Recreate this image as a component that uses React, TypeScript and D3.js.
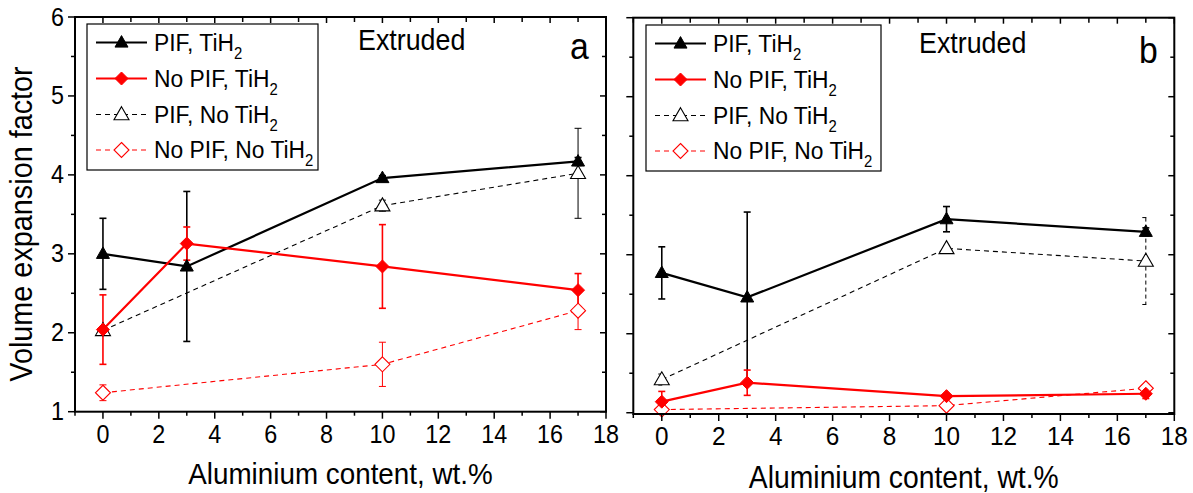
import React from 'react';
import * as d3 from 'd3';

// ---------- data ----------
const xTickValues = [0, 2, 4, 6, 8, 10, 12, 14, 16, 18];
const yTickValues = [1, 2, 3, 4, 5, 6];

const seriesNames = ['PIF, TiH', 'No PIF, TiH', 'PIF, No TiH', 'No PIF, No TiH'];

// Panel a
const aPifTiH2X = [0, 3, 10, 17];
const aPifTiH2Y = [3.0, 2.84, 3.96, 4.17];
const aPifTiH2E = [0.45, 0.95, 0.03, 0.05];

const aNoPifTiH2X = [0, 3, 10, 17];
const aNoPifTiH2Y = [2.04, 3.13, 2.84, 2.54];
const aNoPifTiH2E = [0.44, 0.21, 0.53, 0.21];

const aPifNoTiH2X = [0, 10, 17];
const aPifNoTiH2Y = [2.03, 3.61, 4.02];
const aPifNoTiH2E = [0.05, 0.07, 0.57];

const aNoPifNoTiH2X = [0, 10, 17];
const aNoPifNoTiH2Y = [1.24, 1.6, 2.28];
const aNoPifNoTiH2E = [0.1, 0.28, 0.24];

// Panel b
const bPifTiH2X = [0, 3, 10, 17];
const bPifTiH2Y = [2.77, 2.46, 3.45, 3.29];
const bPifTiH2E = [0.33, 1.08, 0.16, 0.05];

const bNoPifTiH2X = [0, 3, 10, 17];
const bNoPifTiH2Y = [1.14, 1.38, 1.21, 1.24];
const bNoPifTiH2E = [0.13, 0.16, 0.03, 0.06];

const bPifNoTiH2X = [0, 10, 17];
const bPifNoTiH2Y = [1.42, 3.08, 2.92];
const bPifNoTiH2E = [0.07, 0.03, 0.55];

const bNoPifNoTiH2X = [0, 10, 17];
const bNoPifNoTiH2Y = [1.04, 1.09, 1.31];
const bNoPifNoTiH2E = [0.02, 0.03, 0.03];

// ---------- styles ----------
const FONT = '"Liberation Sans", Arial, Helvetica, sans-serif';
const RED = '#ff0000';
const SX = 0.92; // horizontal squeeze of glyphs
const SF = 1.08; // font enlargement

type Kind = 'triFilled' | 'diaFilled' | 'triOpen' | 'diaOpen';
interface Series {
  name: string;
  x: number[];
  y: number[];
  e: number[];
  color: string;
  kind: Kind;
  dashed: boolean;
}

function makeSeries(xs: number[][], ys: number[][], es: number[][]): Series[] {
  const kinds: Kind[] = ['triFilled', 'diaFilled', 'triOpen', 'diaOpen'];
  const colors = ['#000', RED, '#000', RED];
  return kinds.map((k, i) => ({
    name: seriesNames[i],
    x: xs[i],
    y: ys[i],
    e: es[i],
    color: colors[i],
    kind: k,
    dashed: i >= 2,
  }));
}

const seriesA = makeSeries(
  [aPifTiH2X, aNoPifTiH2X, aPifNoTiH2X, aNoPifNoTiH2X],
  [aPifTiH2Y, aNoPifTiH2Y, aPifNoTiH2Y, aNoPifNoTiH2Y],
  [aPifTiH2E, aNoPifTiH2E, aPifNoTiH2E, aNoPifNoTiH2E]
);
const seriesB = makeSeries(
  [bPifTiH2X, bNoPifTiH2X, bPifNoTiH2X, bNoPifNoTiH2X],
  [bPifTiH2Y, bNoPifTiH2Y, bPifNoTiH2Y, bNoPifNoTiH2Y],
  [bPifTiH2E, bNoPifTiH2E, bPifNoTiH2E, bNoPifNoTiH2E]
);

function T({
  x,
  y,
  size,
  anchor,
  rotate,
  children,
}: {
  x: number;
  y: number;
  size: number;
  anchor?: 'start' | 'middle' | 'end';
  rotate?: number;
  children: React.ReactNode;
}) {
  const tr = `translate(${x},${y})${rotate ? ` rotate(${rotate})` : ''} scale(${SX},1)`;
  return (
    <text transform={tr} textAnchor={anchor || 'start'} fontSize={size * SF} fontFamily={FONT} fill="#000">
      {children}
    </text>
  );
}

function Marker({ kind, cx, cy, color }: { kind: Kind; cx: number; cy: number; color: string }) {
  if (kind === 'triFilled' || kind === 'triOpen') {
    const open = kind === 'triOpen';
    const w = open ? 7.5 : 6.5;
    const h = open ? 13 : 11.5;
    const pts = `${cx},${cy - h * 0.6} ${cx + w},${cy + h * 0.4} ${cx - w},${cy + h * 0.4}`;
    return (
      <polygon
        points={pts}
        fill={open ? '#fff' : color}
        stroke={color}
        strokeWidth={open ? 1.1 : 1}
        strokeLinejoin="miter"
      />
    );
  }
  const open = kind === 'diaOpen';
  const r = open ? 7.5 : 6.5;
  const pts = `${cx},${cy - r} ${cx + r},${cy} ${cx},${cy + r} ${cx - r},${cy}`;
  return <polygon points={pts} fill={open ? '#fff' : color} stroke={color} strokeWidth={open ? 1.1 : 1} />;
}

interface PanelProps {
  x0: number;
  x1: number;
  yTop: number;
  yBottom: number;
  yMin: number;
  series: Series[];
  showYLabels: boolean;
  tickFont: number;
  labelBaseline: number;
  titleBaseline: number;
  titleFont: number;
  legend: { x: number; y: number; w: number; h: number };
  extruded: { x: number; y: number };
  letter: { text: string; x: number; y: number };
  dashedErrors: boolean;
}

function Panel(p: PanelProps) {
  const xs = d3.scaleLinear().domain([-1, 18]).range([p.x0, p.x1]);
  const ys = d3.scaleLinear().domain([p.yMin, 6]).range([p.yBottom, p.yTop]);
  const line = d3
    .line<[number, number]>()
    .x((d) => xs(d[0]))
    .y((d) => ys(d[1]));

  const xMinor = d3.range(-1, 19, 1);
  const yMinor = d3.range(1, 6.01, 0.5);

  const drawOrder = [3, 2, 0, 1];
  const rowOffsets = [18.5, 54.5, 90.5, 126];
  const L = p.legend;

  return (
    <g>
      {/* error bars */}
      {drawOrder.map((si) => {
        const s = p.series[si];
        return (
          <g key={'e' + si} stroke={s.color} strokeWidth={s.dashed ? 1 : 1.6}>
            {s.x.map((xv, i) => {
              const cx = xs(xv);
              const yt = ys(s.y[i] + s.e[i]);
              const yb = ys(s.y[i] - s.e[i]);
              const dash = s.dashed && p.dashedErrors ? '4,3' : undefined;
              return (
                <g key={i}>
                  <line x1={cx} x2={cx} y1={yt} y2={yb} strokeDasharray={dash} />
                  <line x1={cx - 3.5} x2={cx + 3.5} y1={yt} y2={yt} strokeDasharray={dash} />
                  <line x1={cx - 3.5} x2={cx + 3.5} y1={yb} y2={yb} strokeDasharray={dash} />
                </g>
              );
            })}
          </g>
        );
      })}
      {/* lines */}
      {drawOrder.map((si) => {
        const s = p.series[si];
        const pts = s.x.map((xv, i) => [xv, s.y[i]] as [number, number]);
        return (
          <path
            key={'l' + si}
            d={line(pts) || ''}
            fill="none"
            stroke={s.color}
            strokeWidth={s.dashed ? 1.1 : 2.2}
            strokeDasharray={s.dashed ? '5,4' : undefined}
          />
        );
      })}
      {/* markers */}
      {drawOrder.map((si) => {
        const s = p.series[si];
        return (
          <g key={'m' + si}>
            {s.x.map((xv, i) => (
              <Marker key={i} kind={s.kind} cx={xs(xv)} cy={ys(s.y[i])} color={s.color} />
            ))}
          </g>
        );
      })}

      {/* frame */}
      <rect
        x={p.x0}
        y={p.yTop}
        width={p.x1 - p.x0}
        height={p.yBottom - p.yTop}
        fill="none"
        stroke="#000"
        strokeWidth={2}
      />
      {/* x ticks */}
      {xMinor.map((v) => {
        const major = v % 2 === 0;
        const px = xs(v);
        return (
          <g key={'xt' + v} stroke="#000" strokeWidth={1.5}>
            <line x1={px} x2={px} y1={p.yBottom} y2={p.yBottom + (major ? 7 : 4)} />
            <line x1={px} x2={px} y1={p.yTop} y2={p.yTop + (major ? 6 : 5)} />
          </g>
        );
      })}
      {/* y ticks */}
      {yMinor.map((v) => {
        const major = Math.abs(v - Math.round(v)) < 1e-6;
        const py = ys(v);
        return (
          <g key={'yt' + v} stroke="#000" strokeWidth={1.5}>
            <line x1={p.x0 - (major ? 7 : 4)} x2={p.x0} y1={py} y2={py} />
            <line x1={p.x1 - (major ? 6 : 4)} x2={p.x1} y1={py} y2={py} />
          </g>
        );
      })}
      {/* x tick labels */}
      {xTickValues.map((v) => (
        <T key={'xl' + v} x={xs(v)} y={p.labelBaseline} size={p.tickFont} anchor="middle">
          {v}
        </T>
      ))}
      {p.showYLabels &&
        yTickValues.map((v) => (
          <T key={'yl' + v} x={p.x0 - 11} y={ys(v) + 8.5} size={p.tickFont} anchor="end">
            {v}
          </T>
        ))}
      {/* x title */}
      <T x={(p.x0 + p.x1) / 2} y={p.titleBaseline} size={p.titleFont} anchor="middle">
        Aluminium content, wt.%
      </T>

      {/* legend */}
      <rect x={L.x} y={L.y} width={L.w} height={L.h} fill="#fff" stroke="#000" strokeWidth={1.2} />
      {p.series.map((s, i) => {
        const ly = L.y + rowOffsets[i];
        return (
          <g key={'lg' + i}>
            <line
              x1={L.x + 9}
              x2={L.x + 60}
              y1={ly}
              y2={ly}
              stroke={s.color}
              strokeWidth={s.dashed ? 1.1 : 2.2}
              strokeDasharray={s.dashed ? '5,4' : undefined}
            />
            <Marker kind={s.kind} cx={L.x + 34.5} cy={ly} color={s.color} />
            <T x={L.x + 67} y={ly + 8} size={23}>
              {s.name}
              <tspan dy={8} fontSize={15 * SF}>
                2
              </tspan>
            </T>
          </g>
        );
      })}

      <T x={p.extruded.x} y={p.extruded.y} size={27}>
        Extruded
      </T>
      <T x={p.letter.x} y={p.letter.y} size={34}>
        {p.letter.text}
      </T>
    </g>
  );
}

export default function App() {
  return (
    <svg
      width={1193}
      height={493}
      style={{ position: 'absolute', left: 0, top: 0, background: '#fff' }}
      xmlns="http://www.w3.org/2000/svg"
    >
      <rect x={0} y={0} width={1193} height={493} fill="#fff" />
      <T x={32} y={224} size={29} anchor="middle" rotate={-90}>
        Volume expansion factor
      </T>
      <Panel
        x0={75}
        x1={606}
        yTop={17}
        yBottom={411.7}
        yMin={1}
        series={seriesA}
        showYLabels={true}
        tickFont={23.5}
        labelBaseline={443}
        titleBaseline={484}
        titleFont={28}
        legend={{ x: 87, y: 24, w: 231, h: 146 }}
        extruded={{ x: 358, y: 50 }}
        letter={{ text: 'a', x: 570, y: 59 }}
        dashedErrors={false}
      />
      <Panel
        x0={633.3}
        x1={1174.3}
        yTop={17.7}
        yBottom={414}
        yMin={0.984}
        series={seriesB}
        showYLabels={false}
        tickFont={24.5}
        labelBaseline={445}
        titleBaseline={488}
        titleFont={28.5}
        legend={{ x: 646, y: 25, w: 235, h: 146 }}
        extruded={{ x: 919, y: 53 }}
        letter={{ text: 'b', x: 1139, y: 63 }}
        dashedErrors={true}
      />
    </svg>
  );
}
